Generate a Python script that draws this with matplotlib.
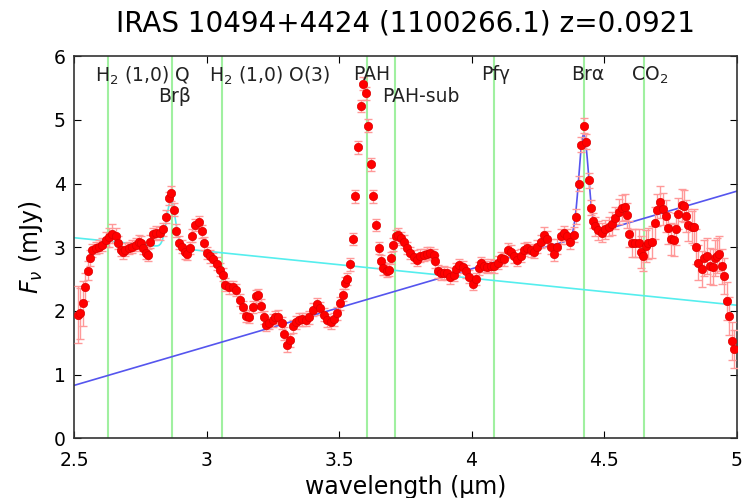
import matplotlib
matplotlib.use("Agg")
import matplotlib.pyplot as plt
import numpy as np

plt.rcParams['font.family'] = ['DejaVu Sans']
plt.rcParams['mathtext.fontset'] = 'dejavusans'

title = "IRAS 10494+4424 (1100266.1) z=0.0921"

# observed spectrum (micron, mJy, 1-sigma)
wave = [2.515, 2.523, 2.532, 2.541, 2.551, 2.560, 2.569, 2.582, 2.594, 2.607,
        2.619, 2.632, 2.644, 2.657, 2.666, 2.676, 2.684, 2.694, 2.707, 2.720,
        2.732, 2.744, 2.753, 2.761, 2.770, 2.778, 2.788, 2.798, 2.811, 2.823,
        2.836, 2.848, 2.857, 2.866, 2.878, 2.886, 2.895, 2.907, 2.920, 2.926,
        2.936, 2.945, 2.957, 2.970, 2.982, 2.991, 3.001, 3.014, 3.026, 3.039,
        3.051, 3.061, 3.070, 3.083, 3.100, 3.112, 3.125, 3.137, 3.150, 3.162,
        3.175, 3.187, 3.196, 3.205, 3.215, 3.225, 3.237, 3.250, 3.258, 3.271,
        3.284, 3.292, 3.302, 3.315, 3.325, 3.337, 3.350, 3.362, 3.375, 3.387,
        3.402, 3.415, 3.427, 3.442, 3.455, 3.468, 3.481, 3.494, 3.504, 3.514,
        3.523, 3.531, 3.541, 3.551, 3.560, 3.572, 3.581, 3.589, 3.601, 3.610,
        3.620, 3.627, 3.639, 3.649, 3.657, 3.667, 3.680, 3.690, 3.696, 3.705,
        3.715, 3.724, 3.733, 3.744, 3.757, 3.769, 3.782, 3.794, 3.807, 3.819,
        3.832, 3.844, 3.857, 3.863, 3.872, 3.884, 3.897, 3.909, 3.919, 3.932,
        3.942, 3.954, 3.967, 3.979, 3.992, 4.005, 4.018, 4.027, 4.036, 4.048,
        4.060, 4.073, 4.086, 4.098, 4.111, 4.123, 4.136, 4.148, 4.161, 4.173,
        4.186, 4.198, 4.211, 4.223, 4.236, 4.248, 4.261, 4.273, 4.286, 4.298,
        4.311, 4.323, 4.336, 4.348, 4.361, 4.373, 4.385, 4.394, 4.404, 4.413,
        4.423, 4.433, 4.442, 4.450, 4.458, 4.467, 4.479, 4.492, 4.504, 4.517,
        4.529, 4.542, 4.555, 4.567, 4.579, 4.588, 4.596, 4.605, 4.617, 4.630,
        4.638, 4.648, 4.658, 4.667, 4.680, 4.692, 4.701, 4.711, 4.721, 4.734,
        4.743, 4.753, 4.764, 4.772, 4.780, 4.793, 4.802, 4.809, 4.818, 4.830,
        4.839, 4.847, 4.856, 4.869, 4.878, 4.890, 4.900, 4.910, 4.919, 4.928,
        4.935, 4.944, 4.954, 4.963, 4.973, 4.982, 4.992]
flux = [1.94, 1.96, 2.12, 2.38, 2.63, 2.83, 2.95, 2.99, 3.01, 3.04,
        3.12, 3.16, 3.21, 3.18, 3.07, 2.96, 2.92, 2.96, 2.99, 3.01,
        3.04, 3.09, 3.07, 2.99, 2.91, 2.88, 3.09, 3.21, 3.23, 3.22,
        3.28, 3.48, 3.77, 3.85, 3.59, 3.26, 3.07, 3.01, 2.92, 2.90,
        2.99, 3.18, 3.35, 3.39, 3.25, 3.06, 2.91, 2.86, 2.81, 2.74,
        2.65, 2.57, 2.41, 2.37, 2.37, 2.33, 2.17, 2.06, 1.92, 1.91,
        2.06, 2.23, 2.25, 2.08, 1.90, 1.78, 1.81, 1.85, 1.90, 1.91,
        1.81, 1.64, 1.46, 1.54, 1.76, 1.82, 1.86, 1.87, 1.86, 1.90,
        2.02, 2.11, 2.04, 1.94, 1.85, 1.82, 1.87, 1.96, 2.12, 2.25,
        2.44, 2.50, 2.73, 3.13, 3.80, 4.57, 5.22, 5.57, 5.42, 4.91,
        4.30, 3.80, 3.35, 2.99, 2.78, 2.67, 2.63, 2.65, 2.83, 3.04,
        3.17, 3.20, 3.14, 3.09, 2.99, 2.91, 2.85, 2.80, 2.87, 2.88,
        2.90, 2.91, 2.88, 2.78, 2.62, 2.59, 2.60, 2.59, 2.53, 2.57,
        2.66, 2.72, 2.69, 2.62, 2.54, 2.43, 2.50, 2.67, 2.75, 2.71,
        2.69, 2.71, 2.70, 2.76, 2.83, 2.81, 2.96, 2.93, 2.86, 2.80,
        2.87, 2.96, 2.99, 2.95, 2.93, 3.01, 3.09, 3.20, 3.13, 3.01,
        2.90, 3.01, 3.17, 3.22, 3.17, 3.09, 3.20, 3.48, 4.00, 4.61,
        4.91, 4.66, 4.05, 3.62, 3.42, 3.33, 3.27, 3.23, 3.28, 3.32,
        3.37, 3.46, 3.56, 3.62, 3.63, 3.50, 3.21, 3.07, 3.06, 3.06,
        2.92, 2.87, 3.02, 3.06, 3.08, 3.38, 3.59, 3.71, 3.60, 3.49,
        3.30, 3.13, 3.12, 3.29, 3.53, 3.67, 3.65, 3.49, 3.35, 3.32,
        3.32, 3.01, 2.76, 2.66, 2.83, 2.86, 2.71, 2.69, 2.83, 2.87,
        2.90, 2.70, 2.55, 2.15, 1.92, 1.53, 1.40]
err = [0.45, 0.40, 0.35, 0.22, 0.15, 0.12, 0.10, 0.10, 0.10, 0.10,
       0.12, 0.15, 0.15, 0.12, 0.10, 0.10, 0.10, 0.10, 0.10, 0.10,
       0.10, 0.10, 0.10, 0.10, 0.10, 0.10, 0.10, 0.10, 0.10, 0.10,
       0.10, 0.10, 0.10, 0.12, 0.10, 0.10, 0.10, 0.10, 0.10, 0.10,
       0.10, 0.10, 0.10, 0.10, 0.10, 0.10, 0.10, 0.10, 0.10, 0.10,
       0.10, 0.10, 0.10, 0.10, 0.10, 0.10, 0.10, 0.10, 0.10, 0.10,
       0.10, 0.10, 0.10, 0.10, 0.10, 0.10, 0.10, 0.10, 0.10, 0.10,
       0.10, 0.10, 0.10, 0.10, 0.10, 0.10, 0.10, 0.10, 0.10, 0.10,
       0.10, 0.10, 0.10, 0.10, 0.10, 0.10, 0.10, 0.10, 0.10, 0.10,
       0.10, 0.10, 0.10, 0.10, 0.10, 0.10, 0.10, 0.10, 0.10, 0.10,
       0.10, 0.10, 0.10, 0.10, 0.10, 0.10, 0.10, 0.10, 0.10, 0.10,
       0.10, 0.10, 0.10, 0.10, 0.10, 0.10, 0.10, 0.10, 0.10, 0.10,
       0.10, 0.10, 0.10, 0.10, 0.10, 0.10, 0.10, 0.10, 0.10, 0.10,
       0.10, 0.10, 0.10, 0.10, 0.10, 0.10, 0.10, 0.10, 0.10, 0.10,
       0.10, 0.10, 0.10, 0.10, 0.10, 0.10, 0.10, 0.10, 0.10, 0.10,
       0.10, 0.10, 0.10, 0.10, 0.10, 0.10, 0.10, 0.12, 0.12, 0.12,
       0.12, 0.12, 0.12, 0.12, 0.12, 0.12, 0.12, 0.12, 0.12, 0.12,
       0.12, 0.12, 0.12, 0.12, 0.12, 0.15, 0.15, 0.15, 0.15, 0.15,
       0.18, 0.18, 0.20, 0.20, 0.20, 0.20, 0.20, 0.22, 0.22, 0.22,
       0.25, 0.25, 0.25, 0.25, 0.25, 0.25, 0.25, 0.25, 0.25, 0.25,
       0.25, 0.25, 0.25, 0.25, 0.25, 0.25, 0.25, 0.25, 0.25, 0.25,
       0.28, 0.28, 0.28, 0.28, 0.28, 0.28, 0.28, 0.28, 0.28, 0.28,
       0.28, 0.28, 0.28, 0.30, 0.30, 0.30, 0.30]

# line identifications (observed wavelength), label row 0 = top, 1 = second
line_wave = [2.629, 2.868, 3.060, 3.604, 3.713, 4.085, 4.425, 4.652]
line_label = [r"H$_2$ (1,0) Q", "Brβ", r"H$_2$ (1,0) O(3)", "PAH",
              "PAH-sub", "Pfγ", "Brα", r"CO$_2$"]
line_row = [0, 1, 0, 0, 1, 0, 0, 0]

# fitted models: linear continuum (value at 2.5 and 5 um) + gaussian line
cyan_cont = [3.15, 2.09]
cyan_gauss = [0.74, 2.866, 0.0165]   # amplitude, centre, sigma
blue_cont = [0.83, 3.88]
blue_gauss = [1.60, 4.423, 0.018]

fig = plt.figure(figsize=(7.44, 4.98), dpi=100)
ax = fig.add_axes([0.0995, 0.12, 0.8905, 0.767])

for w in line_wave:
    ax.axvline(w, color='#a0f0a0', lw=1.5, zorder=1)

xm = np.linspace(2.5, 5.0, 600)
for cont, g, col in [(cyan_cont, cyan_gauss, '#55eeee'), (blue_cont, blue_gauss, '#5555ee')]:
    model = cont[0] + (cont[1] - cont[0]) * (xm - 2.5) / 2.5 \
        + g[0] * np.exp(-0.5 * ((xm - g[1]) / g[2]) ** 2)
    ax.plot(xm, model, color=col, lw=1.2, zorder=2)

ax.errorbar(wave, flux, yerr=err, fmt='none', ecolor='#ff9999', elinewidth=1.0,
            capsize=3, capthick=1.0, zorder=3)
ax.plot(wave, flux, 'o', color='#ff0000', ms=6, mec='#dd0000', mew=0.5, zorder=4)

for w, lab, row in zip(line_wave, line_label, line_row):
    ax.text(w - 0.05, 5.86 - 0.34 * row, lab, fontsize=13.5, ha='left', va='top',
            color='#222222', zorder=5)

ax.set_xlim(2.5, 5.0)
ax.set_ylim(0, 6)
ax.set_xticks([2.5, 3, 3.5, 4, 4.5, 5])
ax.set_xticklabels(["2.5", "3", "3.5", "4", "4.5", "5"])
ax.set_yticks(range(7))
ax.tick_params(direction='in', top=True, right=True, length=5, labelsize=13.5)
ax.tick_params(axis='x', pad=9)
ax.tick_params(axis='y', pad=6)
for s in ax.spines.values():
    s.set_linewidth(1.2)
    s.set_color('#333333')

ax.set_xlabel("wavelength (µm)", fontsize=17, labelpad=4)
ax.set_ylabel(r"$F_\nu$ (mJy)", fontsize=17, labelpad=6)
ax.set_title(title, fontsize=20, pad=18)

fig.savefig("out.png", dpi=100)
